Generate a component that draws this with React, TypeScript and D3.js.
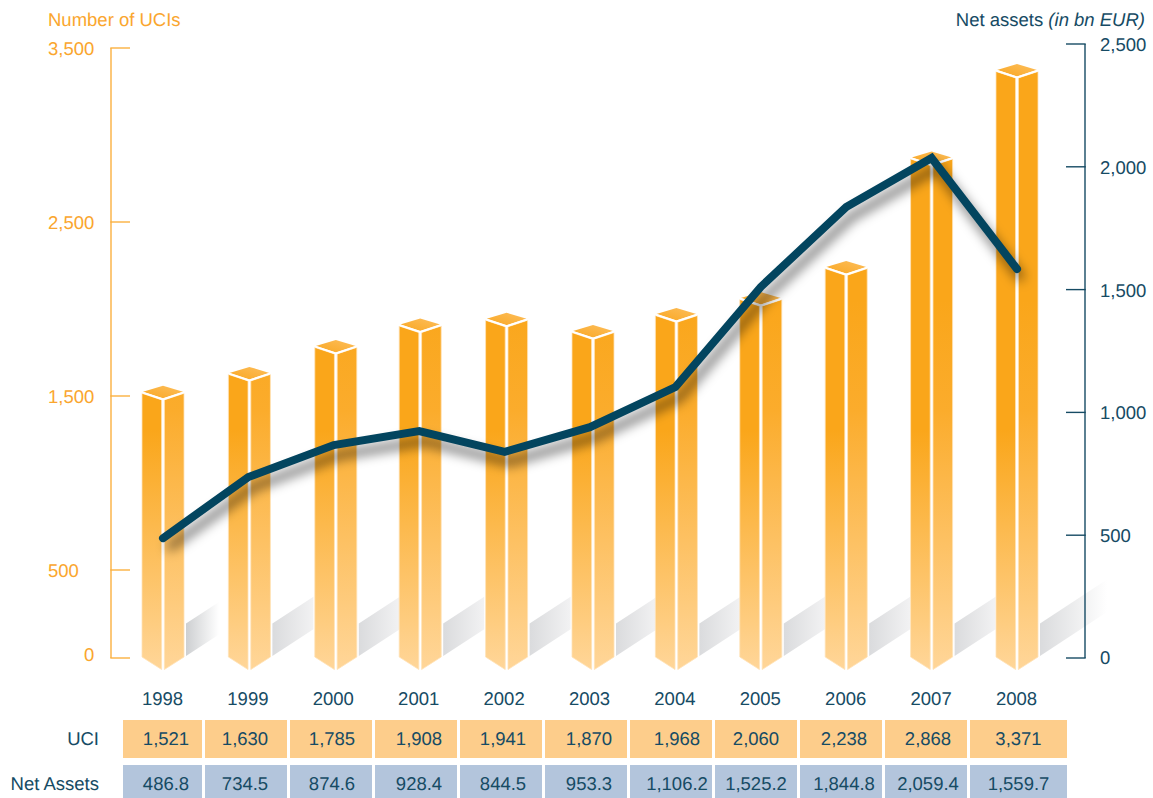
import React from "react";
import * as d3 from "d3";

const years = ["1998", "1999", "2000", "2001", "2002", "2003", "2004", "2005", "2006", "2007", "2008"];
const uciValues = [1521, 1630, 1785, 1908, 1941, 1870, 1968, 2060, 2238, 2868, 3371];
const netAssetsTable = [486.8, 734.5, 874.6, 928.4, 844.5, 953.3, 1106.2, 1525.2, 1844.8, 2059.4, 1559.7];
// The line as it is actually drawn in the picture (it departs a little from the table)
const netAssetsPlotted = [488, 737, 867, 924, 839, 940, 1103, 1511, 1836, 2036, 1584];
const leftTicks = [0, 500, 1500, 2500, 3500];
const rightTicks = [0, 500, 1000, 1500, 2000, 2500];

const W = 1153;
const H = 798;
const FONT = "'Liberation Sans', Arial, sans-serif";
const ORANGE = "#FAA62E";
const AXIS_ORANGE = "#FBB040";
const NAVY = "#164B64";
const FS = 18.5;

// small layout nudges for hand-placed items of the original artwork
const barNudge = [0, 1, 2, 1, 2, 3, 1, 0, 0, 0, 0];
const tableNudge = [3.5, -1, 1, 3, 2, 3, 6, 0, 3, 2, 0];
const shadowLen = [33, 41, 41, 41, 41, 41, 41, 41, 41, 41, 67];

const x = d3.scalePoint<string>().domain(years).range([163, 1017]);
const yLeft = d3.scaleLinear().domain([0, 3500]).range([657, 48]);
const yRight = d3.scaleLinear().domain([0, 2500]).range([658, 44]);
const fmtInt = d3.format(",");
const fmtDec = d3.format(",.1f");

const poly = d3.line<[number, number]>();
const lineGen = d3
  .line<number>()
  .x((_, i) => x(years[i]) as number)
  .y((d) => yRight(d));

const HALF = 21;
const GAP = 1.4;
const DIA = 6.5;

function cell(i: number): [number, number] {
  const left = i === 0 ? 123 : 205 + 85 * (i - 1);
  const right = i === 0 ? 202 : i === years.length - 1 ? 1067 : left + 82;
  return [left, right];
}

function Bar({ i, v }: { i: number; v: number }) {
  const cx = (x(years[i]) as number) + barNudge[i];
  const top = yLeft(v);
  const base = yLeft(0);
  const leftFace: [number, number][] = [
    [cx - HALF, top + 1],
    [cx - GAP, top + DIA + 1],
    [cx - GAP, base + 12.5],
    [cx - HALF, base],
  ];
  const rightFace: [number, number][] = [
    [cx + GAP, top + DIA + 1],
    [cx + HALF, top + 1],
    [cx + HALF, base],
    [cx + GAP, base + 12.5],
  ];
  const cap: [number, number][] = [
    [cx - HALF + 1, top - 0.5],
    [cx, top - DIA],
    [cx + HALF - 1, top - 0.5],
    [cx, top + DIA - 0.5],
  ];
  const yLine: [number, number][] = [
    [cx - HALF, top],
    [cx, top + DIA + 0.5],
    [cx + HALF, top],
  ];
  return (
    <g>
      <path d={poly(leftFace) + "Z"} fill="url(#faceL)" stroke="#FFE2B8" strokeWidth={0.8} />
      <path d={poly(rightFace) + "Z"} fill="url(#faceR)" stroke="#FFE2B8" strokeWidth={0.8} />
      <path d={poly(cap) + "Z"} fill="url(#capG)" />
      <path d={poly(yLine) as string} fill="none" stroke="#fff" strokeWidth={2} />
    </g>
  );
}

function Shadow({ i }: { i: number }) {
  const cx = (x(years[i]) as number) + barNudge[i];
  const x0 = cx + 23;
  const len = shadowLen[i];
  const pts: [number, number][] = [
    [x0, 623.5],
    [x0 + len, 623.5 - len * 0.655],
    [x0 + len, 656 - len * 0.655],
    [x0, 656],
  ];
  const fill = i === 0 ? "url(#shadowFirst)" : i === years.length - 1 ? "url(#shadowLast)" : "url(#shadowMid)";
  return <path d={poly(pts) + "Z"} fill={fill} />;
}

export default function App() {
  return (
    <svg
      width={W}
      height={H}
      viewBox={`0 0 ${W} ${H}`}
      style={{ position: "absolute", left: 0, top: 0, display: "block", background: "#fff" }}
      fontFamily={FONT}
      fontSize={FS}
      textRendering="geometricPrecision"
    >
      <defs>
        <linearGradient id="faceL" gradientUnits="userSpaceOnUse" x1="0" x2="0" y1="430" y2="670">
          <stop offset="0" stopColor="#FAA61A" />
          <stop offset="1" stopColor="#FFD699" />
        </linearGradient>
        <linearGradient id="faceR" gradientUnits="userSpaceOnUse" x1="0" x2="0" y1="300" y2="670">
          <stop offset="0" stopColor="#FAA61A" />
          <stop offset="0.3" stopColor="#FBAC2C" />
          <stop offset="1" stopColor="#FFD699" />
        </linearGradient>
        <linearGradient id="capG" x1="0" y1="1" x2="1" y2="0">
          <stop offset="0" stopColor="#F9A722" />
          <stop offset="1" stopColor="#FDBE5C" />
        </linearGradient>
        <linearGradient id="shadowFirst" x1="0" y1="0.5" x2="1" y2="0.5">
          <stop offset="0" stopColor="#CDCFD1" />
          <stop offset="1" stopColor="#FFFFFF" />
        </linearGradient>
        <linearGradient id="shadowMid" x1="0" y1="0.5" x2="1" y2="0.5">
          <stop offset="0" stopColor="#DADBDD" />
          <stop offset="1" stopColor="#F2F2F3" />
        </linearGradient>
        <linearGradient id="shadowLast" x1="0" y1="0.5" x2="1" y2="0.5">
          <stop offset="0" stopColor="#DADBDD" />
          <stop offset="1" stopColor="#FFFFFF" />
        </linearGradient>
        <filter id="lineShadow" filterUnits="userSpaceOnUse" x="100" y="100" width="1000" height="520">
          <feGaussianBlur stdDeviation="6" />
        </filter>
      </defs>

      {/* floor shadows */}
      {years.map((y, i) => (
        <Shadow key={y} i={i} />
      ))}

      {/* bars */}
      {uciValues.map((v, i) => (
        <Bar key={years[i]} i={i} v={v} />
      ))}

      {/* net assets line with soft shadow */}
      <path
        d={lineGen(netAssetsPlotted) as string}
        transform="translate(5,10)"
        fill="none"
        stroke="#000"
        strokeOpacity={0.55}
        strokeWidth={8}
        filter="url(#lineShadow)"
      />
      <path
        d={lineGen(netAssetsPlotted) as string}
        fill="none"
        stroke="#03455F"
        strokeWidth={8}
        strokeLinecap="round"
        strokeLinejoin="miter"
      />

      {/* left axis */}
      <text x={48} y={26} fill={ORANGE}>Number of UCIs</text>
      <line x1={111} x2={111} y1={yLeft(3500)} y2={yLeft(0) + 1} stroke={AXIS_ORANGE} strokeWidth={1.4} />
      {leftTicks.map((t) => (
        <g key={t}>
          <line x1={110.3} x2={130} y1={yLeft(t) + (t === 0 ? 1 : 0)} y2={yLeft(t) + (t === 0 ? 1 : 0)} stroke={AXIS_ORANGE} strokeWidth={1.4} />
          <text x={t === 0 ? 84 : 48} y={yLeft(t) + (t === 0 ? 4 : 7)} fill={ORANGE}>
            {fmtInt(t)}
          </text>
        </g>
      ))}

      {/* right axis */}
      <text x={1145} y={26} textAnchor="end" fill={NAVY}>
        Net assets <tspan fontStyle="italic">(in bn EUR)</tspan>
      </text>
      <line x1={1085} x2={1085} y1={yRight(2500)} y2={yRight(0)} stroke={NAVY} strokeWidth={1.4} />
      {rightTicks.map((t) => (
        <g key={t}>
          <line x1={1066} x2={1085.7} y1={yRight(t)} y2={yRight(t)} stroke={NAVY} strokeWidth={1.4} />
          <text x={1100} y={yRight(t) + (t === 0 ? 6 : 7)} fill={NAVY}>
            {fmtInt(t)}
          </text>
        </g>
      ))}

      {/* year labels */}
      {years.map((y) => (
        <text key={y} x={(x(y) as number) - 0.5} y={705} textAnchor="middle" fill={NAVY}>
          {y}
        </text>
      ))}

      {/* table */}
      <text x={99} y={745} textAnchor="end" fill={NAVY}>UCI</text>
      <text x={99} y={790} textAnchor="end" fill={NAVY}>Net Assets</text>
      {years.map((y, i) => {
        const [l, r] = cell(i);
        const c = (l + r) / 2 + tableNudge[i];
        return (
          <g key={y}>
            <rect x={l} y={720} width={r - l} height={38} fill="#FDCD8B" />
            <rect x={l} y={765} width={r - l} height={33} fill="#B3C5DC" />
            <text x={c} y={745} textAnchor="middle" fill={NAVY}>{fmtInt(uciValues[i])}</text>
            <text x={c} y={790} textAnchor="middle" fill={NAVY}>{fmtDec(netAssetsTable[i])}</text>
          </g>
        );
      })}
    </svg>
  );
}
